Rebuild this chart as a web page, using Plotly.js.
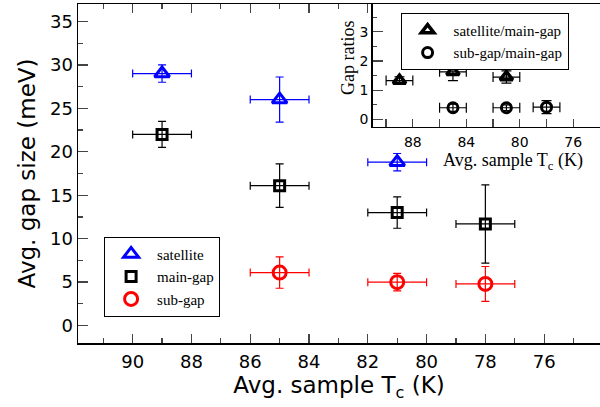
<!DOCTYPE html>
<html>
<head>
<meta charset="utf-8">
<script src="https://cdn.plot.ly/plotly-3.0.1.min.js"></script>
<style>html,body{margin:0;padding:0;background:#fff;}#chart{width:600px;height:407px;}</style>
</head>
<body>
<div id="chart"></div>
<script>
// Main panel data: average sample Tc (K) vs gap size (meV)
const satX = [89, 85, 81];
const satY = [29.0, 26.0, 18.8];
const satYErr = [1.0, 2.6, 1.0];
const satXErr = [1, 1, 1];

const mainGapX = [89, 85, 81, 78];
const mainGapY = [22.0, 16.1, 13.0, 11.7];
const mainGapYErr = [1.5, 2.5, 1.8, 4.5];
const mainGapXErr = [1, 1, 1, 1];

const subX = [85, 81, 78];
const subY = [6.1, 5.0, 4.8];
const subYErr = [1.8, 1.0, 2.0];
const subXErr = [1, 1, 1];

// Inset data: gap ratios
const satRatioX = [89, 85, 81];
const satRatioY = [1.33, 1.63, 1.45];
const satRatioYErr = [0.13, 0.30, 0.21];
const satRatioXErr = [1, 1, 1];

const subRatioX = [85, 81, 78];
const subRatioY = [0.40, 0.40, 0.42];
const subRatioYErr = [0.12, 0.10, 0.22];
const subRatioXErr = [1, 1, 1];

const mainXTicks = [90, 88, 86, 84, 82, 80, 78, 76];
const insetXTicks = [88, 84, 80, 76];
const insetYTicks = [0, 1, 2, 3];

function eb(arr, color, w) {
  return {type: 'data', array: arr, visible: true, color: color, thickness: 1.2, width: w};
}

const traces = [
  {x: satX, y: satY, type: 'scatter', mode: 'markers', name: 'satellite', legend: 'legend',
   marker: {symbol: 'triangle-up-open', size: 13, color: '#0000ff', line: {width: 3, color: '#0000ff'}},
   error_y: eb(satYErr, '#0000ff', 4), error_x: eb(satXErr, '#0000ff', 4)},
  {x: mainGapX, y: mainGapY, type: 'scatter', mode: 'markers', name: 'main-gap', legend: 'legend',
   marker: {symbol: 'square-open', size: 10, color: '#000000', line: {width: 3, color: '#000000'}},
   error_y: eb(mainGapYErr, '#000000', 4), error_x: eb(mainGapXErr, '#000000', 4)},
  {x: subX, y: subY, type: 'scatter', mode: 'markers', name: 'sub-gap', legend: 'legend',
   marker: {symbol: 'circle-open', size: 13, color: '#ff0000', line: {width: 3, color: '#ff0000'}},
   error_y: eb(subYErr, '#ff0000', 4), error_x: eb(subXErr, '#ff0000', 4)},
  {x: satRatioX, y: satRatioY, type: 'scatter', mode: 'markers', name: 'satellite/main-gap', legend: 'legend2',
   xaxis: 'x2', yaxis: 'y2',
   marker: {symbol: 'triangle-up-open', size: 11, color: '#000000', line: {width: 3.5, color: '#000000'}},
   error_y: eb(satRatioYErr, '#000000', 5), error_x: eb(satRatioXErr, '#000000', 5)},
  {x: subRatioX, y: subRatioY, type: 'scatter', mode: 'markers', name: 'sub-gap/main-gap', legend: 'legend2',
   xaxis: 'x2', yaxis: 'y2',
   marker: {symbol: 'circle-open', size: 10, color: '#000000', line: {width: 3, color: '#000000'}},
   error_y: eb(subRatioYErr, '#000000', 5), error_x: eb(subRatioXErr, '#000000', 5)}
];

const sans = 'DejaVu Sans, Arial, sans-serif';
const serif = 'Liberation Serif, Times New Roman, serif';

const layout = {
  width: 600, height: 407,
  margin: {l: 78, r: 0, t: 4, b: 64},
  paper_bgcolor: '#ffffff', plot_bgcolor: '#ffffff',
  showlegend: true,
  font: {family: sans, color: '#000000'},
  xaxis: {
    range: [91.86, 74.1], tickvals: mainXTicks, ticks: 'inside', ticklen: 9, tickwidth: 1.3,
    minor: {dtick: 1, tick0: 0, ticks: 'inside', ticklen: 5, tickwidth: 1.2, showgrid: false},
    showline: true, linecolor: '#000000', linewidth: 1.5, mirror: 'ticks',
    showgrid: false, zeroline: false,
    tickfont: {family: sans, size: 18, color: '#000000'},
    ticklabelstandoff: 2,
    title: {text: 'Avg. sample T<sub>c</sub> (K)', font: {family: sans, size: 23, color: '#000000'}, standoff: 4}
  },
  yaxis: {
    range: [-2, 37], tick0: 0, dtick: 5, ticks: 'inside', ticklen: 10, tickwidth: 1.3,
    minor: {dtick: 2.5, tick0: 0, ticks: 'inside', ticklen: 5, tickwidth: 1.2, showgrid: false},
    showline: true, linecolor: '#000000', linewidth: 1.5,
    showgrid: false, zeroline: false,
    tickfont: {family: sans, size: 18, color: '#000000'},
    title: {text: 'Avg. gap size (meV)', font: {family: sans, size: 23, color: '#000000'}, standoff: 8}
  },
  xaxis2: {
    domain: [0.5646, 1], anchor: 'y2',
    range: [91, 74], tickvals: insetXTicks,
    ticks: 'inside', ticklen: 8, tickwidth: 1.2,
    minor: {dtick: 2, tick0: 0, ticks: 'inside', ticklen: 8, tickwidth: 1.2, showgrid: false},
    showline: true, linecolor: '#000000', linewidth: 1.5,
    showgrid: false, zeroline: false,
    ticklabelstandoff: 2,
    tickfont: {family: sans, size: 14, color: '#000000'}
  },
  yaxis2: {
    domain: [0.638, 1], anchor: 'x2',
    range: [-0.25, 3.95], tickvals: insetYTicks, ticks: 'inside', ticklen: 10, tickwidth: 1.2,
    minor: {dtick: 0.5, tick0: 0, ticks: 'inside', ticklen: 4, tickwidth: 1.1, showgrid: false},
    showline: true, linecolor: '#000000', linewidth: 1.5,
    showgrid: false, zeroline: false,
    tickfont: {family: sans, size: 14, color: '#000000'}
  },
  legend: {
    x: 0.05, y: 0.3136, xanchor: 'left', yanchor: 'top',
    bgcolor: '#ffffff', bordercolor: '#000000', borderwidth: 1,
    font: {family: serif, size: 15, color: '#000000'},
    itemwidth: 42, tracegroupgap: 0
  },
  legend2: {
    x: 0.618, y: 0.974, xanchor: 'left', yanchor: 'top',
    bgcolor: '#ffffff', bordercolor: '#000000', borderwidth: 1,
    font: {family: serif, size: 15, color: '#000000'},
    itemwidth: 42, tracegroupgap: 0
  },
  annotations: [
    {text: 'Avg. sample T<sub>c</sub> (K)', xref: 'paper', yref: 'paper',
     x: 0.833, y: (343 - 161) / 339, xanchor: 'center', yanchor: 'middle', showarrow: false,
     font: {family: serif, size: 18, color: '#000000'}},
    {text: 'Gap ratios', xref: 'paper', yref: 'paper', textangle: -90,
     x: (348 - 78) / 522, y: (343 - 58) / 339, xanchor: 'center', yanchor: 'middle', showarrow: false,
     font: {family: serif, size: 18, color: '#000000'}}
  ]
};

Plotly.newPlot('chart', traces, layout, {displayModeBar: false, staticPlot: true});
</script>
</body>
</html>
